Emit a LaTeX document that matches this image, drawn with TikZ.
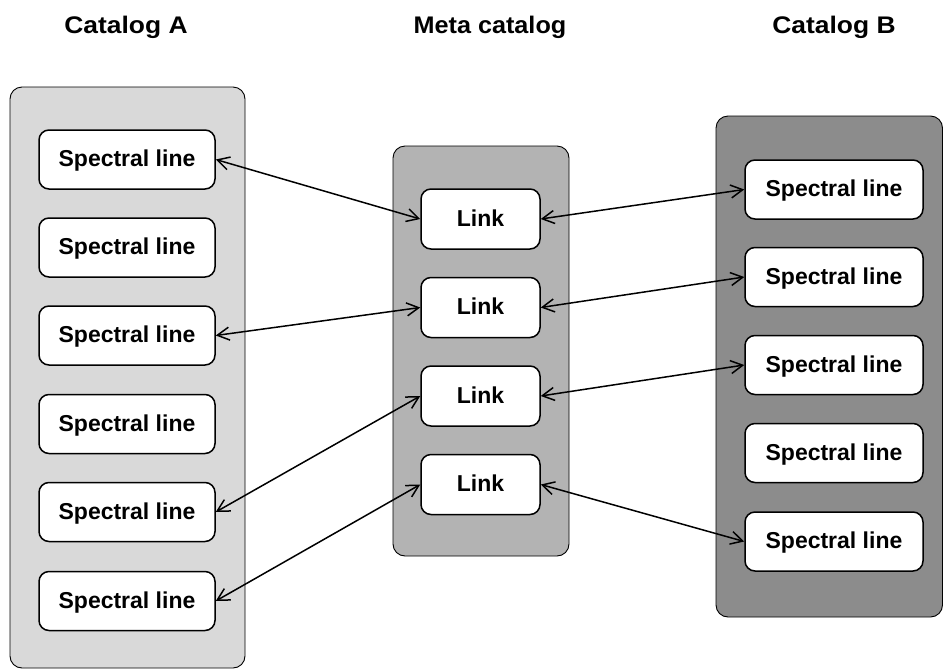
\documentclass[tikz,border=0pt]{standalone}
\usepackage{fontspec}
\setmainfont{Liberation Sans}
\usetikzlibrary{arrows.meta}
\definecolor{catA}{RGB}{217,217,217}
\definecolor{catM}{RGB}{179,179,179}
\definecolor{catB}{RGB}{140,140,140}
\tikzset{
  container/.style={draw=black, line width=0.9pt, rounded corners=12pt},
  specbox/.style={draw=black, fill=white, line width=1.5pt, rounded corners=10pt,
    minimum width=176pt, minimum height=59pt, inner sep=0pt, text depth=2pt,
    font=\fontsize{23}{26}\selectfont\bfseries},
  linkbox/.style={specbox, minimum width=119pt, minimum height=60pt},
  title/.style={font=\fontsize{24}{28}\selectfont\bfseries, inner sep=0pt},
  conn/.style={line width=1.5pt, {Straight Barb[length=12pt,width=13pt]}-{Straight Barb[length=12pt,width=13pt]}}
}
\begin{document}
\begin{tikzpicture}[x=1pt, y=-1pt]
\useasboundingbox (0,0) rectangle (943,670);
% titles
\node[title] (tA) at (126,27) {\scalebox{1.1}[1]{Catalog A}};
\node[title] (tM) at (490,27) {\scalebox{1.05}[1]{Meta catalog}};
\node[title] (tB) at (834,27) {\scalebox{1.1}[1]{Catalog B}};
% containers
\draw[container, fill=catA] (10,87) rectangle (245,668);
\draw[container, fill=catM] (393,146) rectangle (569,556);
\draw[container, fill=catB] (716,116) rectangle (942.5,617);
% catalog A
\node[specbox] (a1) at (127,159.5) {Spectral line};
\node[specbox] (a2) at (127,247.5) {Spectral line};
\node[specbox] (a3) at (127,335.5) {Spectral line};
\node[specbox] (a4) at (127,424) {Spectral line};
\node[specbox] (a5) at (127,512) {Spectral line};
\node[specbox] (a6) at (127,601) {Spectral line};
% meta
\node[linkbox] (l1) at (480.5,219) {Link};
\node[linkbox] (l2) at (480.5,307.5) {Link};
\node[linkbox] (l3) at (480.5,396) {Link};
\node[linkbox] (l4) at (480.5,484.5) {Link};
% catalog B
\node[specbox, minimum width=178pt] (b1) at (834,189.5) {Spectral line};
\node[specbox, minimum width=178pt] (b2) at (834,277) {Spectral line};
\node[specbox, minimum width=178pt] (b3) at (834,365) {Spectral line};
\node[specbox, minimum width=178pt] (b4) at (834,453) {Spectral line};
\node[specbox, minimum width=178pt] (b5) at (834,541.5) {Spectral line};
% connectors
\draw[conn] (a1.east) -- (l1.west);
\draw[conn] (a3.east) -- (l2.west);
\draw[conn] (a5.east) -- (l3.west);
\draw[conn] (a6.east) -- (l4.west);
\draw[conn] (l1.east) -- (b1.west);
\draw[conn] (l2.east) -- (b2.west);
\draw[conn] (l3.east) -- (b3.west);
\draw[conn] (l4.east) -- (b5.west);
\end{tikzpicture}
\end{document}
